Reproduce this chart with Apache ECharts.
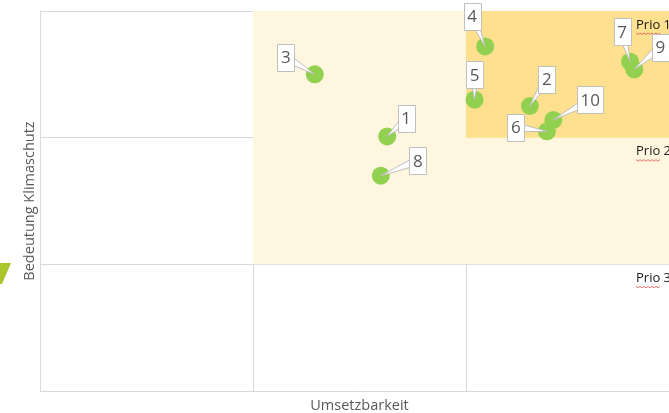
<!DOCTYPE html>
<html>
<head>
<meta charset="utf-8">
<script src="https://cdn.jsdelivr.net/npm/echarts@6/dist/echarts.min.js"></script>
<style>
html,body{margin:0;padding:0;background:#fff;}
#chart{width:669px;height:413px;}
</style>
</head>
<body>
<div id="chart"></div>
<script>
// ---- data ----
const ids = ['1', '2', '3', '4', '5', '6', '7', '8', '9', '10'];
const umsetzbarkeit = [1.63, 2.30, 1.29, 2.09, 2.04, 2.38, 2.77, 1.60, 2.79, 2.41];
const bedeutung = [2.01, 2.25, 2.50, 2.72, 2.30, 2.05, 2.60, 1.70, 2.54, 2.14];
const prioLabels = ['Prio 1', 'Prio 2', 'Prio 3'];
const prioLevels = [3, 2, 1];
const xAxisName = 'Umsetzbarkeit';
const yAxisName = 'Bedeutung Klimaschutz';

// ---- layout (label callout offsets in px) ----
const labelOffsets = [[19, -18], [17, -27], [-29, -17], [-13, -30], [0, -25],
                      [-31, -4], [-8, -30], [37, -15], [26, -22], [37, -20]];

const points = ids.map((id, i) => [umsetzbarkeit[i], bedeutung[i], id]);

const chart = echarts.init(document.getElementById('chart'), null, {renderer: 'canvas'});
const GRID = '#D9D9D9';
const TXT = '#595959';
const FONT = '"Open Sans", sans-serif';

chart.setOption({
  animation: false,
  grid: {left: 40, top: 11, width: 639, height: 380, containLabel: false, outerBoundsMode: 'none'},
  xAxis: {
    type: 'value', min: 0, max: 3, interval: 1, z: 1,
    name: xAxisName, nameLocation: 'middle', nameGap: 7,
    nameTextStyle: {color: TXT, fontSize: 14.5, fontFamily: FONT},
    axisLine: {show: true, lineStyle: {color: GRID}},
    axisTick: {show: false}, axisLabel: {show: false},
    splitLine: {show: true, lineStyle: {color: GRID, width: 1}}
  },
  yAxis: {
    type: 'value', min: 0, max: 3, interval: 1, z: 1,
    name: yAxisName, nameLocation: 'middle', nameGap: 3, nameRotate: 90,
    nameTextStyle: {color: TXT, fontSize: 14.5, fontFamily: FONT},
    axisLine: {show: true, lineStyle: {color: GRID}},
    axisTick: {show: false}, axisLabel: {show: false},
    splitLine: {show: true, lineStyle: {color: GRID, width: 1}}
  },
  graphic: [{
    type: 'polygon', z: 10,
    shape: {points: [[0, 263], [11, 263], [2, 284], [0, 284]]},
    style: {fill: '#AAC62B'}
  }],
  series: [
    {
      type: 'scatter', z: 0, data: [], silent: true,
      markArea: {
        silent: true,
        data: [
          [{coord: [1, 1], itemStyle: {color: '#FFF6DF'}}, {coord: [3, 3]}],
          [{coord: [2, 2], itemStyle: {color: '#FFE08F'}}, {coord: [3, 3]}]
        ]
      }
    },
    {
      type: 'custom', z: 1, silent: true,
      data: prioLevels.map((lv, i) => [3, lv, prioLabels[i]]),
      renderItem: function (params, api) {
        const p = api.coord([api.value(0), api.value(1)]);
        const i = params.dataIndex;
        const x = p[0] - 43, y = p[1] + 14;
        const wave = [];
        for (let k = 0; k <= 12; k++) wave.push([x + k * 2, y + 8 + (k % 2 ? 1.5 : 0)]);
        return {
          type: 'group',
          children: [
            {type: 'text', style: {text: prioLabels[i], x: x, y: y, align: 'left', verticalAlign: 'middle',
              font: '13px ' + FONT, fill: '#1a1a1a'}},
            {type: 'polyline', shape: {points: wave}, style: {stroke: '#E05050', lineWidth: 0.8, fill: null}}
          ]
        };
      }
    },
    {
      type: 'scatter', z: 2,
      data: points,
      symbol: 'circle', symbolSize: 18,
      itemStyle: {color: '#92D050', opacity: 1},
      label: {show: false}
    },
    {
      type: 'custom', z: 3, silent: true,
      data: points,
      renderItem: function (params, api) {
        const i = params.dataIndex;
        const p = api.coord([api.value(0), api.value(1)]);
        const off = labelOffsets[i];
        const cx = p[0] + off[0], cy = p[1] + off[1];
        const txt = ids[i];
        const w = txt.length > 1 ? 26 : 17, h = 27;
        const dx = p[0] - cx, dy = p[1] - cy;
        const len = Math.hypot(dx, dy) || 1;
        const nx = -dy / len, ny = dx / len, half = 4.5;
        return {
          type: 'group',
          children: [
            {type: 'polygon', shape: {points: [[p[0], p[1]], [cx + nx * half, cy + ny * half], [cx - nx * half, cy - ny * half]]},
              style: {fill: '#FFFFFF', stroke: '#BFBFBF', lineWidth: 1}},
            {type: 'rect', shape: {x: Math.round(cx - w / 2) + 0.5, y: Math.round(cy - h / 2) + 0.5, width: w, height: h},
              style: {fill: '#FFFFFF', stroke: '#BFBFBF', lineWidth: 1}},
            {type: 'text', style: {text: txt, x: cx, y: cy + 1, align: 'center', verticalAlign: 'middle',
              font: '17px ' + FONT, fill: TXT}}
          ]
        };
      }
    }
  ]
});
</script>
</body>
</html>
